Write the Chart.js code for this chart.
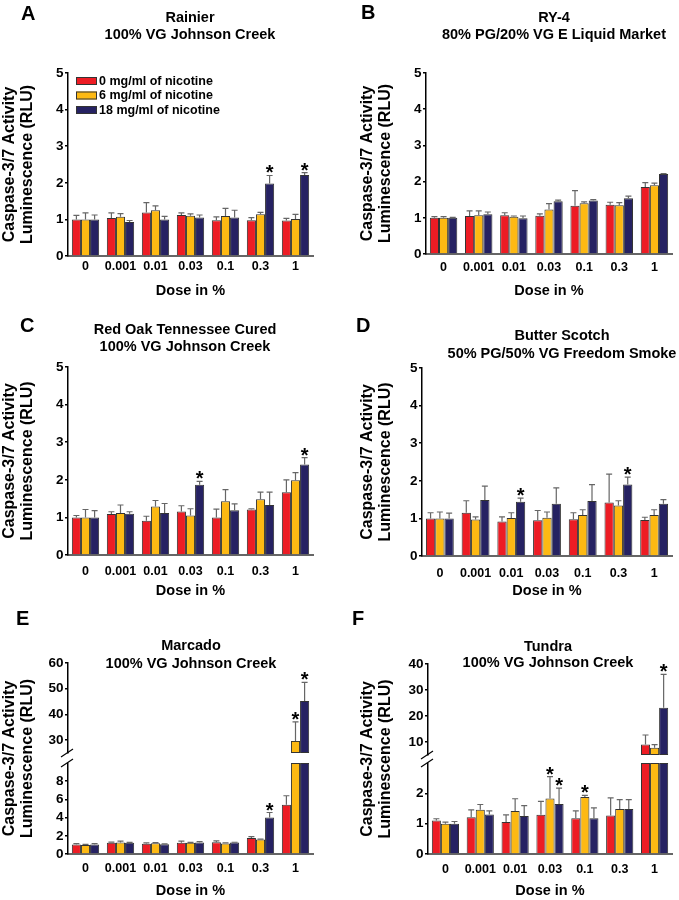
<!DOCTYPE html>
<html>
<head>
<meta charset="utf-8">
<script src="https://cdn.jsdelivr.net/npm/chart.js@4.4.1/dist/chart.umd.min.js"></script>
<style>
  body { margin: 0; background: #fff; }
  #fig { position: relative; width: 679px; height: 900px; font-family: 'Liberation Sans', Arial, sans-serif; font-weight: bold; color: #000; }
  #fig canvas { position: absolute; }
  .letter { position: absolute; font-size: 20px; line-height: 20px; }
  .ttl { position: absolute; font-size: 14.5px; line-height: 17px; text-align: center; transform: translateX(-50%); white-space: nowrap; }
</style>
</head>
<body>
<div id="fig">
  <canvas id="chartA" width="340" height="300" style="left:0;top:0"></canvas>
  <canvas id="chartB" width="339" height="300" style="left:340px;top:0"></canvas>
  <canvas id="chartC" width="340" height="300" style="left:0;top:300px"></canvas>
  <canvas id="chartD" width="339" height="300" style="left:340px;top:300px"></canvas>
  <canvas id="chartE" width="340" height="300" style="left:0;top:600px"></canvas>
  <canvas id="chartF" width="339" height="300" style="left:340px;top:600px"></canvas>

  <div class="letter" style="left:21px;top:3px">A</div>
  <div class="letter" style="left:361px;top:2px">B</div>
  <div class="letter" style="left:20px;top:315px">C</div>
  <div class="letter" style="left:356px;top:315px">D</div>
  <div class="letter" style="left:16px;top:608px">E</div>
  <div class="letter" style="left:352px;top:608px">F</div>

  <div class="ttl" style="left:190px;top:9px">Rainier<br>100% VG Johnson Creek</div>
  <div class="ttl" style="left:554px;top:9px">RY-4<br>80% PG/20% VG E Liquid Market</div>
  <div class="ttl" style="left:185px;top:321px">Red Oak Tennessee Cured<br>100% VG Johnson Creek</div>
  <div class="ttl" style="left:562px;top:326px;line-height:18px">Butter Scotch<br>50% PG/50% VG Freedom Smoke</div>
  <div class="ttl" style="left:191px;top:636px;line-height:18px">Marcado<br>100% VG Johnson Creek</div>
  <div class="ttl" style="left:548px;top:638px;line-height:16px">Tundra<br>100% VG Johnson Creek</div>
</div>

<script>
const doses = ['0', '0.001', '0.01', '0.03', '0.1', '0.3', '1'];
const seriesLabels = ['0 mg/ml of nicotine', '6 mg/ml of nicotine', '18 mg/ml of nicotine'];
const barColors = ['#ED1C24', '#FDB913', '#262262'];
const yTitle = ['Caspase-3/7 Activity', 'Luminescence (RLU)'];

// y tick labels
const unitTicks = [0, 1, 2, 3, 4, 5];
const marcadoLowTicks = [0, 2, 4, 6, 8];
const marcadoHighTicks = [30, 40, 50, 60];
const tundraLowTicks = [0, 1, 2];
const tundraHighTicks = [10, 20, 30, 40];

// rows: 0, 6, 18 mg/ml ; columns: dose
const rainierMean = [
  [1.00, 1.04, 1.19, 1.12, 0.98, 0.98, 0.97],
  [1.00, 1.07, 1.25, 1.10, 1.09, 1.14, 1.01],
  [1.00, 0.93, 1.00, 1.05, 1.05, 1.98, 2.21]
];
const rainierSem = [
  [0.11, 0.14, 0.27, 0.06, 0.09, 0.07, 0.06],
  [0.18, 0.09, 0.12, 0.05, 0.21, 0.05, 0.13],
  [0.12, 0.04, 0.08, 0.07, 0.20, 0.22, 0.07]
];
const rainierStar = [
  [0, 0, 0, 0, 0, 0, 0],
  [0, 0, 0, 0, 0, 0, 0],
  [0, 0, 0, 0, 0, 1, 1]
];

const ry4Mean = [
  [1.00, 1.05, 1.07, 1.06, 1.33, 1.36, 1.85],
  [1.00, 1.07, 1.03, 1.23, 1.40, 1.35, 1.90],
  [1.00, 1.10, 0.99, 1.46, 1.48, 1.54, 2.21]
];
const ry4Sem = [
  [0.03, 0.14, 0.07, 0.05, 0.42, 0.07, 0.12],
  [0.03, 0.12, 0.02, 0.16, 0.04, 0.07, 0.06],
  [0.01, 0.06, 0.06, 0.03, 0.02, 0.06, 0.01]
];
const ry4Star = [
  [0, 0, 0, 0, 0, 0, 0],
  [0, 0, 0, 0, 0, 0, 0],
  [0, 0, 0, 0, 0, 0, 0]
];

const redOakMean = [
  [1.00, 1.09, 0.91, 1.16, 1.00, 1.21, 1.67],
  [1.00, 1.12, 1.29, 1.05, 1.43, 1.48, 1.99],
  [1.00, 1.10, 1.12, 1.87, 1.19, 1.33, 2.41]
];
const redOakSem = [
  [0.05, 0.06, 0.12, 0.15, 0.22, 0.02, 0.33],
  [0.21, 0.21, 0.16, 0.18, 0.31, 0.19, 0.20],
  [0.18, 0.05, 0.25, 0.09, 0.17, 0.34, 0.18]
];
const redOakStar = [
  [0, 0, 0, 0, 0, 0, 0],
  [0, 0, 0, 0, 0, 0, 0],
  [0, 0, 0, 1, 0, 0, 1]
];

const butterMean = [
  [1.00, 1.15, 0.92, 0.95, 0.98, 1.42, 0.96],
  [1.00, 0.97, 1.01, 1.02, 1.09, 1.34, 1.09],
  [1.00, 1.49, 1.44, 1.39, 1.46, 1.90, 1.39]
];
const butterSem = [
  [0.15, 0.32, 0.12, 0.26, 0.17, 0.76, 0.07],
  [0.17, 0.07, 0.14, 0.15, 0.14, 0.13, 0.14],
  [0.14, 0.37, 0.10, 0.42, 0.44, 0.20, 0.11]
];
const butterStar = [
  [0, 0, 0, 0, 0, 0, 0],
  [0, 0, 0, 0, 0, 0, 0],
  [0, 0, 1, 0, 0, 1, 0]
];

const marcadoMean = [
  [1.05, 1.23, 1.12, 1.23, 1.30, 1.75, 5.4],
  [1.00, 1.26, 1.19, 1.23, 1.15, 1.60, 29.7],
  [1.05, 1.23, 1.08, 1.26, 1.26, 4.00, 45.2]
];
const marcadoSem = [
  [0.10, 0.07, 0.10, 0.18, 0.15, 0.15, 1.0],
  [0.05, 0.15, 0.07, 0.05, 0.07, 0.03, 7.4],
  [0.10, 0.05, 0.03, 0.10, 0.03, 0.56, 7.3]
];
const marcadoStar = [
  [0, 0, 0, 0, 0, 0, 0],
  [0, 0, 0, 0, 0, 0, 1],
  [0, 0, 0, 0, 0, 1, 1]
];

const tundraMean = [
  [1.10, 1.21, 1.05, 1.29, 1.18, 1.27, 9.0],
  [1.00, 1.46, 1.42, 1.83, 1.88, 1.48, 7.8],
  [1.00, 1.30, 1.25, 1.65, 1.18, 1.48, 23.2]
];
const tundraSem = [
  [0.06, 0.24, 0.24, 0.44, 0.24, 0.58, 3.7],
  [0.05, 0.17, 0.40, 0.72, 0.05, 0.31, 1.2],
  [0.07, 0.12, 0.34, 0.52, 0.34, 0.31, 12.8]
];
const tundraStar = [
  [0, 0, 0, 0, 0, 0, 0],
  [0, 0, 0, 1, 1, 0, 0],
  [0, 0, 0, 1, 0, 0, 1]
];

Chart.defaults.font.family = "'Liberation Sans', Arial, sans-serif";
Chart.defaults.font.weight = 'bold';
Chart.defaults.color = '#000';

// error bars (up only) and significance stars
const errorBars = {
  id: 'errorBars',
  afterDatasetsDraw(chart) {
    const ctx = chart.ctx;
    ctx.save();
    chart.data.datasets.forEach((ds, di) => {
      const meta = chart.getDatasetMeta(di);
      const yScale = chart.scales[meta.yAxisID];
      meta.data.forEach((bar, i) => {
        const v = ds.data[i];
        const e = ds.errors[i];
        if (v == null || e == null) return;
        const x = bar.x;
        const yTop = yScale.getPixelForValue(v + e);
        ctx.strokeStyle = '#666';
        ctx.lineWidth = 1.2;
        ctx.beginPath();
        ctx.moveTo(x, bar.y);
        ctx.lineTo(x, yTop);
        ctx.moveTo(x - 3, yTop);
        ctx.lineTo(x + 3, yTop);
        ctx.stroke();
        if (ds.stars[i]) {
          ctx.fillStyle = '#000';
          ctx.font = "bold 20px 'Liberation Sans', Arial, sans-serif";
          ctx.textAlign = 'center';
          ctx.textBaseline = 'alphabetic';
          ctx.fillText('*', x, yTop + 4);
        }
      });
    });
    ctx.restore();
  }
};

// legend drawn inside the plot (panel A)
const insideLegend = {
  id: 'insideLegend',
  afterDraw(chart, args, opts) {
    if (!opts.display) return;
    const ctx = chart.ctx;
    const {left, top} = chart.chartArea;
    ctx.save();
    ctx.font = "bold 12.5px 'Liberation Sans', Arial, sans-serif";
    ctx.textBaseline = 'middle';
    ctx.textAlign = 'left';
    chart.data.datasets.slice(0, 3).forEach((ds, i) => {
      const y = top + opts.top + i * opts.row;
      const x = left + opts.left;
      ctx.fillStyle = ds.backgroundColor;
      ctx.fillRect(x, y - 4, 21, 8);
      ctx.strokeStyle = '#333';
      ctx.lineWidth = 1;
      ctx.strokeRect(x + 0.5, y - 3.5, 20, 7);
      ctx.fillStyle = '#000';
      ctx.fillText(ds.label, x + 23, y + 0.5);
    });
    ctx.restore();
  }
};

// gap and "//" marks on a broken y axis
const axisBreak = {
  id: 'axisBreak',
  afterDraw(chart, args, opts) {
    if (!opts.display) return;
    const ctx = chart.ctx;
    const yA = chart.scales.yTop.bottom;
    const yB = chart.scales.y.getPixelForValue(opts.cut);
    const x = chart.chartArea.left;
    ctx.save();
    ctx.fillStyle = '#fff';
    ctx.fillRect(x - 3, yA + 0.5, 6, yB - yA - 1);
    ctx.strokeStyle = '#000';
    ctx.lineWidth = 1.2;
    [yA, yB].forEach(y => {
      ctx.beginPath();
      ctx.moveTo(x - 7, y + 4);
      ctx.lineTo(x + 5, y - 4);
      ctx.stroke();
    });
    ctx.restore();
  }
};

function yScale(ticks, min, max, width, extra) {
  return Object.assign({
    type: 'linear',
    position: 'left',
    min: min,
    max: max,
    stacked: false,
    afterBuildTicks: s => { s.ticks = ticks.map(v => ({value: v})); },
    afterFit: s => { s.width = width; },
    border: {display: true, color: '#000', width: 1.5},
    grid: {display: true, drawOnChartArea: false, drawTicks: true, tickLength: 3, color: '#000', lineWidth: 1.5},
    ticks: {padding: 1.5, autoSkip: false, font: {size: 13.5, weight: 'bold'}, color: '#000'}
  }, extra || {});
}

function makePanel(p) {
  const broken = p.cut != null;
  const datasets = [];
  seriesLabels.forEach((label, s) => {
    const means = p.means[s];
    const real = v => !broken || v <= p.cut;
    datasets.push({
      label: label,
      data: broken ? means.map(v => Math.min(v, p.cut)) : means,
      errors: means.map((v, i) => real(v) ? p.sems[s][i] : null),
      stars: means.map((v, i) => real(v) ? p.stars[s][i] : 0),
      backgroundColor: barColors[s],
      borderColor: '#333',
      borderWidth: 1,
      stack: broken ? 's' + s : undefined,
      yAxisID: 'y'
    });
  });
  if (broken) {
    seriesLabels.forEach((label, s) => {
      const means = p.means[s];
      datasets.push({
        label: label,
        data: means.map(v => v > p.cut ? v : null),
        errors: means.map((v, i) => v > p.cut ? p.sems[s][i] : null),
        stars: means.map((v, i) => v > p.cut ? p.stars[s][i] : 0),
        backgroundColor: barColors[s],
        borderColor: '#333',
        borderWidth: 1,
        borderSkipped: false,
        base: p.topMin,
        stack: 's' + s,
        yAxisID: 'yTop'
      });
    });
  }

  const scales = {
    x: {
      type: 'category',
      offset: true,
      grid: {display: false, drawTicks: false},
      border: {display: true, color: '#666', width: 2},
      ticks: {padding: p.tickPad, font: {size: 12.5, weight: 'bold'}, color: '#000', maxRotation: 0, autoSkip: false},
      title: {display: true, text: 'Dose in %', font: {size: 14.5, weight: 'bold'}, color: '#000',
              padding: {top: 0, bottom: Math.max(0, 300 - 8.7 - p.doseY)}},
      afterFit: s => { s.height = 300 - p.bottom; }
    }
  };
  if (broken) {
    scales.y = yScale(p.lowTicks, 0, p.lowMax, p.yWidth, {stack: 'v', stackWeight: p.lowWeight, weight: 0});
    scales.yTop = yScale(p.highTicks, p.topMin, p.topMax, p.yWidth, {stack: 'v', stackWeight: p.topWeight, weight: 1});
  } else {
    scales.y = yScale(unitTicks, 0, 5, p.yWidth);
  }

  new Chart(document.getElementById(p.id), {
    type: 'bar',
    data: {labels: doses, datasets: datasets},
    options: {
      responsive: false,
      animation: false,
      datasets: {bar: {categoryPercentage: 0.78, barPercentage: 1.0}},
      layout: {padding: {left: p.padLeft, top: p.top, right: p.padRight, bottom: 0}},
      scales: scales,
      plugins: {
        legend: {display: false},
        tooltip: {enabled: false},
        title: {display: true, position: 'left', fullSize: false, text: yTitle,
                font: {size: 16, weight: 'bold', lineHeight: 1.125}, color: '#000', padding: {top: 1, bottom: 3}},
        insideLegend: {display: !!p.legend, left: 8, top: 8, row: 14.5},
        axisBreak: {display: broken, cut: p.cut}
      }
    },
    plugins: [errorBars, insideLegend, axisBreak]
  });
}

makePanel({id: 'chartA', means: rainierMean, sems: rainierSem, stars: rainierStar,
  padLeft: 0, padRight: 27, top: 73, bottom: 256, yWidth: 28, tickPad: 3.5, doseY: 292, legend: true});
makePanel({id: 'chartB', means: ry4Mean, sems: ry4Sem, stars: ry4Star,
  padLeft: 18, padRight: 7, top: 73, bottom: 254, yWidth: 28, tickPad: 6.5, doseY: 292});
makePanel({id: 'chartC', means: redOakMean, sems: redOakSem, stars: redOakStar,
  padLeft: 0, padRight: 27, top: 67, bottom: 255, yWidth: 28, tickPad: 9, doseY: 293});
makePanel({id: 'chartD', means: butterMean, sems: butterSem, stars: butterStar,
  padLeft: 18, padRight: 7, top: 68, bottom: 256, yWidth: 24, tickPad: 10, doseY: 294});
makePanel({id: 'chartE', means: marcadoMean, sems: marcadoSem, stars: marcadoStar,
  padLeft: 0, padRight: 27, top: 63, bottom: 254, yWidth: 28, tickPad: 7, doseY: 292,
  cut: 10, lowMax: 11.1, topMin: 25, topMax: 60, lowWeight: 101, topWeight: 90,
  lowTicks: marcadoLowTicks, highTicks: marcadoHighTicks});
makePanel({id: 'chartF', means: tundraMean, sems: tundraSem, stars: tundraStar,
  padLeft: 18, padRight: 7, top: 64, bottom: 254, yWidth: 30, tickPad: 8, doseY: 293,
  cut: 3, lowMax: 3.26, topMin: 5, topMax: 40, lowWeight: 99, topWeight: 91,
  lowTicks: tundraLowTicks, highTicks: tundraHighTicks});
</script>
</body>
</html>
